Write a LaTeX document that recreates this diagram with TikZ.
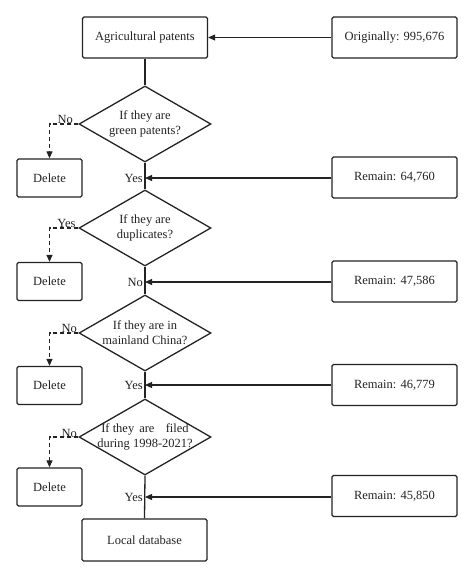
\documentclass[tikz,border=0pt]{standalone}
\usepackage{fontspec}
\setmainfont{Liberation Serif}
\usetikzlibrary{shapes.geometric,arrows.meta,calc}
\definecolor{ink}{RGB}{35,35,35}
\tikzset{
  every node/.style={font=\fontsize{12.5}{15}\selectfont, text=ink},
  box/.style={draw=ink, line width=1.3pt, rounded corners=1.5pt, minimum width=125pt, minimum height=41pt, inner sep=0pt},
  delbox/.style={draw=ink, line width=1.3pt, rounded corners=1.5pt, minimum width=65pt, minimum height=38pt, inner sep=0pt},
  dia/.style={draw=ink, line width=1.3pt, diamond, minimum width=132pt, minimum height=76pt, inner sep=0pt},
  flow/.style={draw=ink, line width=1.3pt},
  feed/.style={draw=ink, line width=1.1pt, -{Triangle[length=7pt,width=6pt]}},
  rej/.style={draw=ink, line width=1.2pt, dash pattern=on 4pt off 3pt, -{Triangle[length=7pt,width=6pt]}},
  lab/.style={inner sep=0pt},
}
\begin{document}
\begin{tikzpicture}[x=1pt,y=-1pt]
\useasboundingbox (0,0) rectangle (474,579);
% boxes
\node[box] (ag) at (145,37.5) {Agricultural patents};
\node[box] (orig) at (394.5,37.5) {Originally: 995,676};
\node[dia] (d1) at (145,124) {};
\node[lab, align=center] (d1t) at (145,124) {If they are\\green patents?};
\node[delbox] (del1) at (49.5,178) {Delete};
\node[box] (rem1) at (394.5,177.5) {Remain: 64,760};
\node[dia] (d2) at (145,228) {};
\node[lab, align=center] (d2t) at (145,228) {If they are\\duplicates?};
\node[delbox] (del2) at (49.5,281.5) {Delete};
\node[box] (rem2) at (394.5,281.5) {Remain: 47,586};
\node[dia] (d3) at (145,333) {};
\node[lab, align=center] (d3t) at (145,333) {If they are in\\mainland China?};
\node[delbox] (del3) at (49.5,385.5) {Delete};
\node[box] (rem3) at (394.5,385) {Remain: 46,779};
\node[dia] (d4) at (145,437) {};
\node[lab, align=center] (d4t) at (145,437) {If they\hspace{0.4em}are\hspace{0.9em}filed\\during 1998-2021?};
\node[delbox] (del4) at (49.5,487) {Delete};
\node[box] (rem4) at (394.5,496) {Remain: 45,850};
\node[box, minimum height=42pt] (loc) at (144.5,540) {Local database};
% junctions
\coordinate (j1) at (145,178);
\coordinate (j2) at (145,282);
\coordinate (j3) at (145,385);
\coordinate (j4) at (145,497);
% trunk
\draw[flow] (ag.south) -- (d1.north);
\draw[flow] (d1.south) -- (d2.north);
\draw[flow] (d2.south) -- (d3.north);
\draw[flow] (d3.south) -- (d4.north);
\draw[flow] (d4.south) -- (loc.north);
% feeds
\draw[feed] (orig.west) -- (ag.east);
\draw[feed] (rem1.west |- j1) -- (j1);
\draw[feed] (rem2.west |- j2) -- (j2);
\draw[feed] (rem3.west |- j3) -- (j3);
\draw[feed] (rem4.west |- j4) -- (j4);
% labels on trunk
\node[lab, anchor=east] (y1) at (143,178) {Yes};
\node[lab, anchor=east] (n2) at (143,282) {No};
\node[lab, anchor=east] (y3) at (143,385) {Yes};
\node[lab, anchor=east] (y4) at (143,497) {Yes};
% rejections
\draw[rej] (d1.west) -| (del1.north);
\draw[rej] (d2.west) -| (del2.north);
\draw[rej] (d3.west) -| (del3.north);
\draw[rej] (d4.west) -| (del4.north);
\node[lab] (n1) at ($(d1.west)+(-13,-5)$) {No};
\node[lab] (y2) at ($(d2.west)+(-12,-5)$) {Yes};
\node[lab] (n3) at ($(d3.west)+(-9,-5)$) {No};
\node[lab] (n4) at ($(d4.west)+(-9,-4)$) {No};
\end{tikzpicture}
\end{document}
